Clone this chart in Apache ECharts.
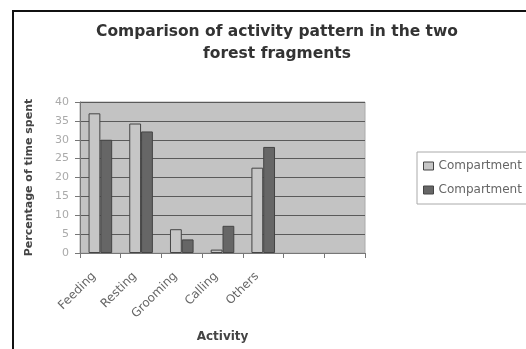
<!DOCTYPE html>
<html><head><meta charset="utf-8">
<script src="https://cdn.jsdelivr.net/npm/echarts@6/dist/echarts.min.js"></script>
<style>html,body{margin:0;padding:0;background:#fff}#c{width:526px;height:349px}</style>
</head><body><div id="c"></div>
<script>
const categories = ['Feeding','Resting','Grooming','Calling','Others','',''];
const compartment1 = [37, 34.3, 6.3, 0.9, 22.6, null, null];
const compartment2 = [30, 32.2, 3.6, 7.2, 28.1, null, null];
const yTicks = [0,5,10,15,20,25,30,35,40];

const chart = echarts.init(document.getElementById('c'), null, {renderer:'canvas'});
chart.setOption({
  animation:false,
  backgroundColor:'#fff',
  textStyle:{fontFamily:'DejaVu Sans, Verdana, sans-serif'},
  title:{
    text:'Comparison of activity pattern in the two\nforest fragments',
    left:272, top:16, textAlign:'center',
    textStyle:{fontSize:15.5, fontWeight:'bold', color:'#333', lineHeight:22, fontFamily:'DejaVu Sans'}
  },
  graphic:[
    {type:'polyline', shape:{points:[[13,349],[13,11],[530,11]]}, style:{stroke:'#111', lineWidth:2, fill:null}, z:100}
  ],
  legend:{
    left:417, top:152, orient:'vertical', itemWidth:10, itemHeight:8, itemGap:12, itemStyle:{borderColor:'#444', borderWidth:1},
    padding:[8,10,8,6], borderColor:'#aaa', borderWidth:1,
    textStyle:{fontSize:12, color:'#666', fontFamily:'DejaVu Sans'},
    icon:'rect'
  },
  grid:{left:80, right:161, top:102, bottom:96, backgroundColor:'#c3c3c3', show:true, borderColor:'#aaa', borderWidth:1},
  xAxis:{
    type:'category', data:categories,
    name:'Activity', nameLocation:'middle', nameGap:78,
    nameTextStyle:{fontSize:12, fontWeight:'bold', color:'#444'},
    axisLine:{lineStyle:{color:'#777'}},
    axisTick:{show:true, lineStyle:{color:'#777'}},
    axisLabel:{rotate:45, fontSize:12, color:'#666', margin:15, interval:0, padding:[0,9,0,0]}
  },
  yAxis:{
    type:'value', min:0, max:40, interval:5,
    name:'Percentage of time spent', nameLocation:'middle', nameGap:45, nameRotate:90,
    nameTextStyle:{fontSize:11, fontWeight:'bold', color:'#444'},
    axisLine:{show:true, lineStyle:{color:'#777'}},
    axisTick:{show:true, lineStyle:{color:'#777'}},
    axisLabel:{fontSize:11, color:'#aaa', margin:11},
    splitLine:{lineStyle:{color:'#5a5a5a', width:1}}
  },
  series:[
    {name:'Compartment 1', type:'bar', data:compartment1, barGap:'0%', barCategoryGap:'42%',
     itemStyle:{color:'#c6c6c6', borderColor:'#444', borderWidth:1}},
    {name:'Compartment 2', type:'bar', data:compartment2,
     itemStyle:{color:'#666', borderColor:'#444', borderWidth:1}}
  ]
});
</script></body></html>
